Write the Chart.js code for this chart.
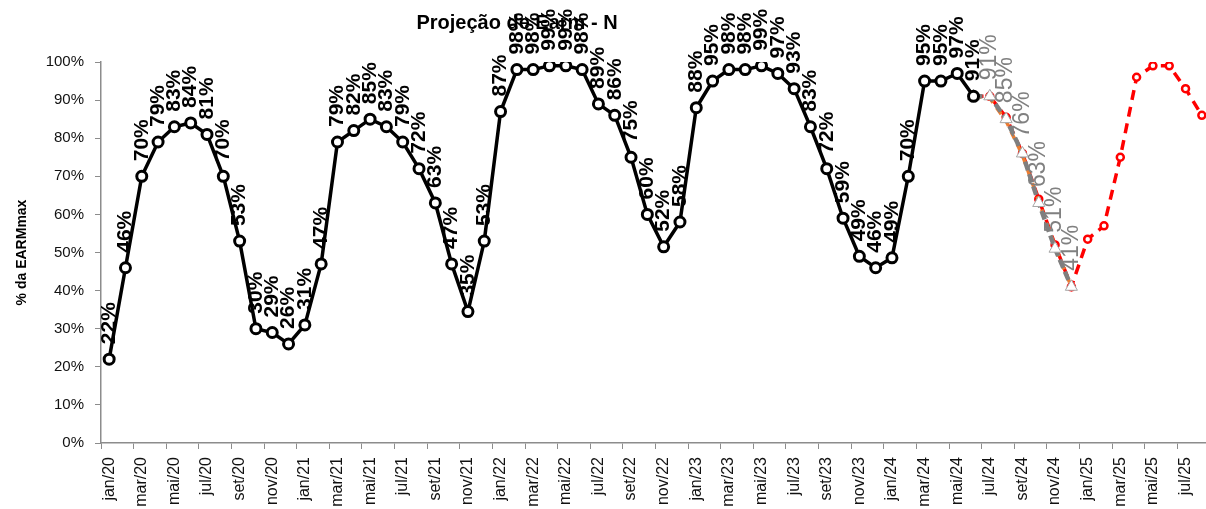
<!DOCTYPE html>
<html>
<head>
<meta charset="utf-8">
<script src="https://cdn.jsdelivr.net/npm/chart.js@4.4.1/dist/chart.umd.min.js"></script>
<style>
  html, body { margin: 0; padding: 0; background: #fff; overflow: hidden; }
  #wrap { width: 1218px; height: 520px; position: relative; }
</style>
</head>
<body>
<div id="wrap"><canvas id="earm"></canvas></div>
<script>
// eixo x: jan/20 ... ago/25
const meses = ['jan','fev','mar','abr','mai','jun','jul','ago','set','out','nov','dez'];
const anos = ['20','21','22','23','24','25'];
const rotulos = [];
for (const a of anos) for (const m of meses) rotulos.push(m + '/' + a);
rotulos.length = 68;

const yTicks = [0,10,20,30,40,50,60,70,80,90,100];

// % EARMmax verificado (jan/20 - jun/24)
const realizado = [
  22,46,70,79,83,84,81,70,53,30,29,26,
  31,47,79,82,85,83,79,72,63,47,34.5,53,
  87,98,98,99,99,98,89,86,75,60,51.5,58,
  88,95,98,98,99,97,93,83,72,59,49,46,
  48.6,70,95,95,97,91
].concat(Array(14).fill(null));

// projeções (jun/24 em diante)
const projCinza = Array(53).fill(null).concat([91,91,85,76,63,51,41]).concat(Array(8).fill(null));
const projLaranja = Array(53).fill(null).concat([91,90.5,84.5,75.5,63.5,51.5,41]).concat(Array(8).fill(null));
const projVermelha = Array(53).fill(null).concat([91,91,85.5,76,64,52,41,53.5,57,75,96,99,99,93,86]);

const rotulosPontos = {
  id: 'rotulosPontos',
  afterDatasetsDraw(chart) {
    const ctx = chart.ctx;
    for (let i = chart.data.datasets.length - 1; i >= 0; i--) {
      const ds = chart.data.datasets[i];
      if (!ds.rotulo) continue;
      const meta = chart.getDatasetMeta(i);
      const primeiro = ds.data.findIndex(v => v != null);
      meta.data.forEach((pt, j) => {
        const v = ds.data[j];
        if (v == null) return;
        if (ds.rotulo.pularPrimeiro && j === primeiro) return;
        ctx.save();
        ctx.translate(pt.x, pt.y);
        ctx.rotate(-Math.PI / 2);
        ctx.font = ds.rotulo.font;
        ctx.fillStyle = ds.rotulo.cor;
        ctx.textAlign = 'left';
        ctx.textBaseline = 'middle';
        ctx.fillText(Math.round(v) + '%', ds.rotulo.gap, 0);
        ctx.restore();
      });
    }
  }
};

const titulo = {
  id: 'titulo',
  beforeDatasetsDraw(chart) {
    const ctx = chart.ctx;
    ctx.save();
    ctx.font = 'bold 20px "Liberation Sans", Arial, sans-serif';
    ctx.fillStyle = '#000';
    ctx.textAlign = 'center';
    ctx.textBaseline = 'middle';
    ctx.fillText('Projeção de Earm - N', 517, 23);
    ctx.restore();
  }
};

new Chart(document.getElementById('earm'), {
  type: 'line',
  data: {
    labels: rotulos,
    datasets: [
      {
        label: 'Verificado',
        data: realizado,
        borderColor: '#000',
        borderWidth: 3.5,
        pointRadius: 5,
        pointBorderWidth: 3,
        pointBackgroundColor: '#fff',
        pointBorderColor: '#000',
        tension: 0,
        rotulo: { font: 'bold 21px "Liberation Sans", Arial, sans-serif', cor: '#000', gap: 15 }
      },
      {
        label: 'Projeção 1',
        data: projCinza,
        borderColor: '#7f7f7f',
        borderWidth: 4.5,
        borderDash: [9, 4],
        pointStyle: 'triangle',
        pointRadius: 7,
        pointBorderWidth: 1,
        pointBackgroundColor: '#fff',
        pointBorderColor: '#a6a6a6',
        tension: 0,
        rotulo: { font: '23px "Liberation Sans", Arial, sans-serif', cor: '#808080', gap: 16, pularPrimeiro: true }
      },
      {
        label: 'Projeção 2',
        data: projLaranja,
        borderColor: '#ed7d31',
        borderWidth: 3.5,
        borderDash: [8, 6],
        pointRadius: 0,
        tension: 0
      },
      {
        label: 'Projeção 3',
        data: projVermelha,
        borderColor: '#ff0000',
        borderWidth: 3.5,
        borderDash: [10, 7],
        pointRadius: 3.5,
        pointBorderWidth: 2.5,
        pointBackgroundColor: '#fff',
        pointBorderColor: '#ff0000',
        tension: 0
      }
    ]
  },
  options: {
    responsive: true,
    maintainAspectRatio: false,
    animation: false,
    layout: { padding: { top: 62, right: 0, bottom: 0, left: 0 } },
    plugins: {
      legend: { display: false },
      tooltip: { enabled: false },
      title: { display: false }
    },
    scales: {
      x: {
        offset: true,
        afterFit(scale) {
          scale.height = 77;
          scale.paddingLeft = 0;
          scale.paddingRight = 0;
        },
        grid: {
          offset: true,
          drawOnChartArea: false,
          drawTicks: true,
          tickLength: 6,
          color: ctx => (ctx.index % 2 === 0 ? '#8c8c8c' : 'rgba(0,0,0,0)')
        },
        border: { color: '#8c8c8c', width: 1.5 },
        ticks: {
          autoSkip: false,
          minRotation: 90,
          maxRotation: 90,
          padding: 8,
          color: '#111',
          font: { family: '"Liberation Sans", Arial, sans-serif', size: 16 },
          callback: (v, i) => (i % 2 === 0 ? rotulos[i] : '')
        }
      },
      y: {
        min: 0,
        max: 100,
        afterFit(scale) { scale.width = 101; },
        afterBuildTicks(scale) { scale.ticks = yTicks.map(v => ({ value: v })); },
        grid: {
          drawOnChartArea: false,
          drawTicks: true,
          tickLength: 6,
          color: '#8c8c8c'
        },
        border: { color: '#8c8c8c', width: 1.5 },
        ticks: {
          padding: 11,
          color: '#111',
          font: { family: '"Liberation Sans", Arial, sans-serif', size: 15 },
          callback: v => v + '%'
        },
        title: {
          display: true,
          text: '% da EARMmax',
          color: '#000',
          padding: { top: 14, bottom: 0 },
          font: { family: '"Liberation Sans", Arial, sans-serif', size: 14, weight: 'bold' }
        }
      }
    }
  },
  plugins: [titulo, rotulosPontos]
});
</script>
</body>
</html>
